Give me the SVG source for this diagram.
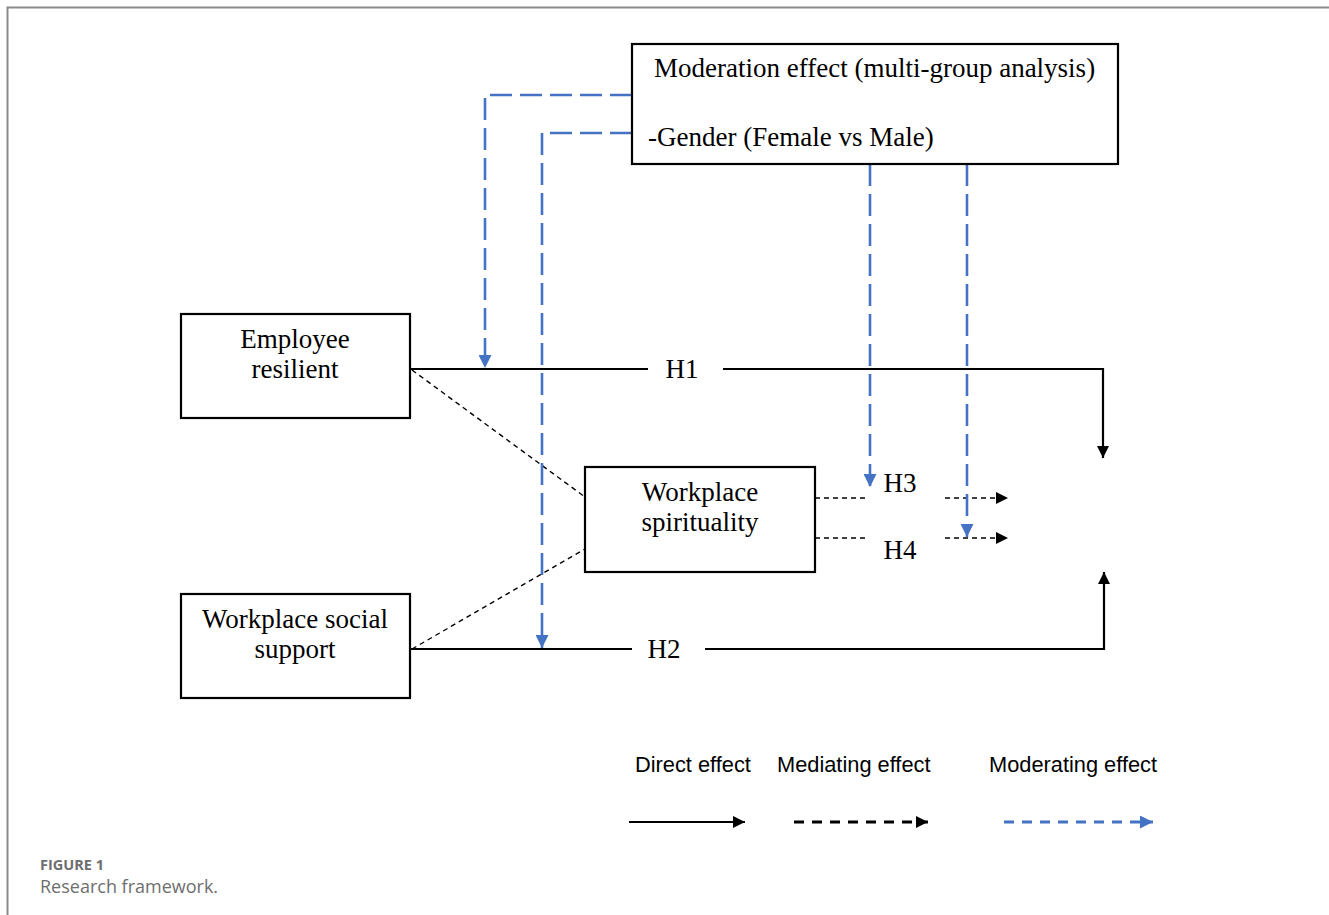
<svg xmlns="http://www.w3.org/2000/svg" width="1329" height="915" viewBox="0 0 1329 915">
<style>
.box{fill:#fff;stroke:#000;stroke-width:2.2}
.t{font-family:"Liberation Serif","Times New Roman",serif;font-size:27px;fill:#000}
.lg{font-family:"Liberation Sans",Arial,sans-serif;font-size:21.8px;fill:#000}
.solid{fill:none;stroke:#000;stroke-width:2.2}
.med{fill:none;stroke:#000;stroke-width:1.4;stroke-dasharray:5 4}
.mod{fill:none;stroke:#4472C4;stroke-width:2.6;stroke-dasharray:22 8}
</style>
<defs>
<marker id="ab" viewBox="0 0 10 10" refX="10" refY="5" markerWidth="12" markerHeight="12" markerUnits="userSpaceOnUse" orient="auto"><path d="M0,0 L10,5 L0,10 z" fill="#000"/></marker>
<marker id="abl" viewBox="0 0 10 10" refX="10" refY="5" markerWidth="13" markerHeight="13" markerUnits="userSpaceOnUse" orient="auto"><path d="M0,0 L10,5 L0,10 z" fill="#4472C4"/></marker>
</defs>
<rect width="1329" height="915" fill="#fff"/>
<path d="M7.5,915 V7.5 H1329" fill="none" stroke="#8a8a8a" stroke-width="2"/>

<g id="connectors">
<path class="solid" d="M410,369 H648"/>
<path class="solid" d="M723,369 H1103 V458" marker-end="url(#ab)"/>
<path class="solid" d="M410,649 H632"/>
<path class="solid" d="M705,649 H1104 V572" marker-end="url(#ab)"/>
<path class="med" d="M412,370 L585,497"/>
<path class="med" d="M412,649 L585,549"/>
<path class="med" d="M815,498 H869"/>
<path class="med" d="M945,498 H1008" marker-end="url(#ab)"/>
<path class="med" d="M815,538 H869"/>
<path class="med" d="M945,538 H1008" marker-end="url(#ab)"/>
<path class="mod" d="M632,95 H485 V368" marker-end="url(#abl)"/>
<path class="mod" d="M632,133 H542 V648" marker-end="url(#abl)"/>
<path class="mod" d="M870,164 V487" marker-end="url(#abl)"/>
<path class="mod" d="M967,164 V537" marker-end="url(#abl)"/>
<text class="t" x="682" y="378" text-anchor="middle">H1</text>
<text class="t" x="664" y="658" text-anchor="middle">H2</text>
<text class="t" x="900" y="492" text-anchor="middle">H3</text>
<text class="t" x="900" y="559" text-anchor="middle">H4</text>
</g>

<g id="moderation">
<rect class="box" x="632" y="44" width="486" height="120"/>
<text class="t" x="654" y="77">Moderation effect (multi-group analysis)</text>
<text class="t" x="648" y="146">-Gender (Female vs Male)</text>
</g>

<g id="employee-resilient">
<rect class="box" x="181" y="314" width="229" height="104"/>
<text class="t" x="295" y="348" text-anchor="middle">Employee</text>
<text class="t" x="295" y="378" text-anchor="middle">resilient</text>
</g>

<g id="workplace-social-support">
<rect class="box" x="181" y="594" width="229" height="104"/>
<text class="t" x="295" y="628" text-anchor="middle">Workplace social</text>
<text class="t" x="295" y="658" text-anchor="middle">support</text>
</g>

<g id="workplace-spirituality">
<rect class="box" x="585" y="467" width="230" height="105"/>
<text class="t" x="700" y="501" text-anchor="middle">Workplace</text>
<text class="t" x="700" y="531" text-anchor="middle">spirituality</text>
</g>

<g id="legend">
<text class="lg" x="635" y="772">Direct effect</text>
<text class="lg" x="777" y="772">Mediating effect</text>
<text class="lg" x="989" y="772">Moderating effect</text>
<path d="M629,822 H745" fill="none" stroke="#000" stroke-width="2" marker-end="url(#ab)"/>
<path d="M794,822 H928" fill="none" stroke="#000" stroke-width="3.2" stroke-dasharray="10 8" marker-end="url(#ab)"/>
<path d="M1004,822 H1153" fill="none" stroke="#4472C4" stroke-width="3.2" stroke-dasharray="10 8" marker-end="url(#abl)"/>
</g>

<g id="caption">
<text x="40" y="870" font-family="'Open Sans','Liberation Sans',sans-serif" font-size="14.5" font-weight="bold" fill="#6e6e6e">FIGURE 1</text>
<text x="40" y="893" font-family="'Open Sans','Liberation Sans',sans-serif" font-size="18" fill="#6e6e6e">Research framework.</text>
</g>
</svg>
